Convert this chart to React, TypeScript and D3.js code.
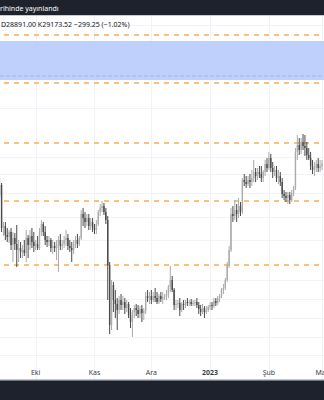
import React from 'react';
import * as d3 from 'd3';

const START = new Date(2022, 8, 12);

const opens = [22400,22900,20750,20850,20400,20300,20550,19900,20250,19950,19650,19750,19550,19650,19500,20250,19900,20350,20050,19850,19950,19750,20550,20950,20550,20150,20050,20150,19750,19850,19750,19950,20150,19850,19950,20150,20250,19850,19750,19650,19950,20150,19950,20250,21450,21250,21050,21250,20850,21050,20750,20650,20950,21550,21750,21850,21550,21150,18900,15900,17900,17150,16950,16650,17150,16900,17050,16750,16950,16400,16050,16550,16750,16650,16450,16700,16500,16600,17350,17250,17350,17150,17350,17250,17050,17350,17200,17300,17350,17450,17800,18150,17650,16900,16950,17000,16650,16950,16900,17050,17000,17050,16950,17000,17050,16900,16700,16550,16750,16550,16650,16800,16900,16850,17100,17000,17250,17350,17650,17750,18150,18850,19650,21450,21350,21650,21450,21850,21550,23150,23050,22950,23150,23050,23250,23550,23350,23550,23450,23250,23550,23950,23750,24250,23750,23550,23650,23250,23350,23050,22450,22350,22250,22400,22150,22500,22750,24550,24900,24650,25050,24850,24750,24400,24250,23850,23650,23750,23950,23750,23850];
const highs = [23250,23000,21050,21050,20750,20650,20750,20550,20500,20900,20150,20050,19900,20150,20650,20400,20650,20750,20550,20150,20350,20750,21150,21050,20850,20350,20350,20250,20150,20050,20150,20350,20450,20150,20350,20650,20450,20150,20050,20150,20350,20450,20350,21650,21750,21550,21450,21450,21250,21250,20950,21150,21650,21950,22100,22000,21750,21350,19050,18150,18050,17650,17250,17350,17450,17350,17250,17150,17050,16750,16650,16900,16950,16900,16850,16900,16750,17550,17650,17550,17650,17550,17750,17550,17450,17550,17550,17450,17650,17900,18850,18350,17750,17150,17150,17250,17050,17150,17150,17250,17150,17200,17150,17150,17250,17050,16900,16950,16850,16850,16900,17050,17050,17250,17250,17350,17450,17750,17950,18250,19050,19850,21750,21850,22150,21950,22250,22050,23250,23450,23350,23350,23450,23650,24150,23750,23750,23850,23850,23650,24150,24250,24550,24450,24050,23850,23850,23650,23550,23250,22650,22550,22550,22550,22650,22850,24750,25400,25250,25250,25450,25400,25050,24750,24550,24150,24050,24150,24250,24150,24150];
const lows = [22250,20550,20350,20150,20050,20000,19650,19050,19650,18800,19050,19250,19250,19350,19050,19250,19650,19750,19550,19650,19650,19650,20350,20350,19900,19800,19850,19550,19450,19550,19150,18550,19650,19650,19750,19850,19650,19550,19050,19450,19750,19750,19850,20150,20850,20750,20850,20650,20650,20550,20450,20450,20850,21350,21550,21400,20950,17150,15450,15650,16550,16250,15650,16450,16650,16650,16450,16550,16250,15750,15300,16250,16350,16250,16250,16050,16150,16450,17050,16950,16950,17050,17050,16950,16950,17050,16950,17150,17150,17250,17550,17550,16650,16650,16750,16350,16550,16650,16750,16850,16850,16850,16850,16850,16750,16450,16350,16450,16250,16450,16550,16650,16650,16750,16850,16900,17050,17250,17450,17650,18050,18750,19550,21050,21150,21050,21250,21350,21450,22850,22750,22850,22750,22850,23050,23050,23150,23250,23050,23050,23350,23550,23650,23550,23250,23350,23050,22950,22850,22250,22150,22050,21950,21950,22050,22350,22650,24150,24400,24450,24650,24350,24150,24150,23650,23450,23350,23550,23550,23550,23650];
const closes = [22900,20750,20850,20400,20300,20550,19900,20250,19950,19650,19750,19550,19650,19500,20250,19900,20350,20050,19850,19950,19750,20550,20950,20550,20150,20050,20150,19750,19850,19750,19950,20150,19850,19950,20150,20250,19850,19750,19650,19950,20150,19950,20250,21450,21250,21050,21250,20850,21050,20750,20650,20950,21550,21750,21850,21550,21150,18900,15900,17900,17150,16950,16650,17150,16900,17050,16750,16950,16400,16050,16550,16750,16650,16450,16700,16500,16600,17350,17250,17350,17150,17350,17250,17050,17350,17200,17300,17350,17450,17800,18150,17650,16900,16950,17000,16650,16950,16900,17050,17000,17050,16950,17000,17050,16900,16700,16550,16750,16550,16650,16800,16900,16850,17100,17000,17250,17350,17650,17750,18150,18850,19650,21450,21350,21650,21450,21850,21550,23150,23050,22950,23150,23050,23250,23550,23350,23550,23450,23250,23550,23950,23750,24250,23750,23550,23650,23250,23350,23050,22450,22350,22250,22400,22150,22500,22750,24550,24900,24650,25050,24850,24750,24400,24250,23850,23650,23750,23950,23750,23850,23950];

const levelPrices = [30400, 28000, 25000, 22100, 18900];
const zoneTop = 30100;
const zoneBottom = 28150;
const zoneMid = 28350;
const gridPrices = [30900, 29600, 26750, 24300, 23450, 22500, 21300, 20150, 18150, 17200, 16250, 15300, 14400];

const monthDates = [new Date(2022, 9, 1), new Date(2022, 10, 1), new Date(2022, 11, 1), new Date(2023, 0, 1), new Date(2023, 1, 1), new Date(2023, 2, 1)];
const monthLabels = ['Eki', 'Kas', 'Ara', '2023', 'Şub', 'Mar'];

const headerText = 'rihinde yayınlandı';
const ohlcText = 'D28891.00 K29173.52 −299.25 (−1.02%)';

const W = 324;
const H = 400;
const PLOT_TOP = 16;
const PLOT_BOTTOM = 380;

export default function App() {
  const dates = opens.map((_, i) => d3.timeDay.offset(START, i));
  const x = d3.scaleTime().domain([monthDates[0], monthDates[5]]).range([35.7, 322]);
  const y = d3.scaleLinear().domain([13150, 31350]).range([PLOT_BOTTOM, PLOT_TOP]);
  const font = '"Noto Sans", "DejaVu Sans", sans-serif';
  const upCol = '#ababab';
  const downCol = '#4a4a4a';
  const bw = 1.4;

  return (
    <svg width={W} height={H} style={{ position: 'absolute', left: 0, top: 0, background: '#ffffff' }} fontFamily={font}>
      <rect x={0} y={0} width={W} height={H} fill="#ffffff" />
      {gridPrices.map((p, i) => (
        <line key={'gh' + i} x1={0} x2={W} y1={Math.round(y(p)) + 0.5} y2={Math.round(y(p)) + 0.5} stroke="#f0f3fa" strokeWidth={1} />
      ))}
      {monthDates.map((d, i) => (
        <line key={'gv' + i} x1={Math.round(x(d)) + 0.5} x2={Math.round(x(d)) + 0.5} y1={PLOT_TOP} y2={PLOT_BOTTOM} stroke="#f0f3fa" strokeWidth={1} />
      ))}
      <rect x={0} y={y(zoneTop)} width={W} height={y(zoneBottom) - y(zoneTop)} fill="#c0d0fd" />
      <line x1={0} x2={W} y1={y(zoneMid)} y2={y(zoneMid)} stroke="#a6b5de" strokeWidth={1} strokeDasharray="4 2" />
      {levelPrices.map((p, i) => (
        <line key={'lv' + i} x1={4} x2={W} y1={y(p)} y2={y(p)} stroke="#fbc07c" strokeWidth={1.8} strokeDasharray="5 5" />
      ))}
      {dates.map((d, i) => {
        const o = opens[i], h = highs[i], l = lows[i], c = closes[i];
        const col = c >= o ? upCol : downCol;
        const cx = x(d);
        const top = y(Math.max(o, c));
        const bot = y(Math.min(o, c));
        return (
          <g key={'c' + i}>
            <line x1={cx} x2={cx} y1={y(h)} y2={y(l)} stroke={col} strokeWidth={1} />
            <rect x={cx - bw / 2} y={top} width={bw} height={Math.max(1, bot - top)} fill={col} />
          </g>
        );
      })}
      <rect x={0} y={0} width={W} height={15} fill="#1e222d" />
      <line x1={0} x2={W} y1={15.5} y2={15.5} stroke="#c8cad0" strokeWidth={1} />
      <text x={0} y={10.5} fill="#ffffff" fontSize={7}>{headerText}</text>
      <text x={1} y={27} fill="#131722" fontSize={7}>{ohlcText}</text>
      {monthDates.map((d, i) => (
        <text key={'ml' + i} x={x(d)} y={375} textAnchor="middle" fill="#3c3f47" fontSize={7} fontWeight={monthLabels[i] === '2023' ? 'bold' : 'normal'}>{monthLabels[i]}</text>
      ))}
      <line x1={0} x2={W} y1={380} y2={380} stroke="#8a8d96" strokeWidth={1} />
      <rect x={0} y={380.5} width={W} height={H - 380.5} fill="#1e222d" />
    </svg>
  );
}
